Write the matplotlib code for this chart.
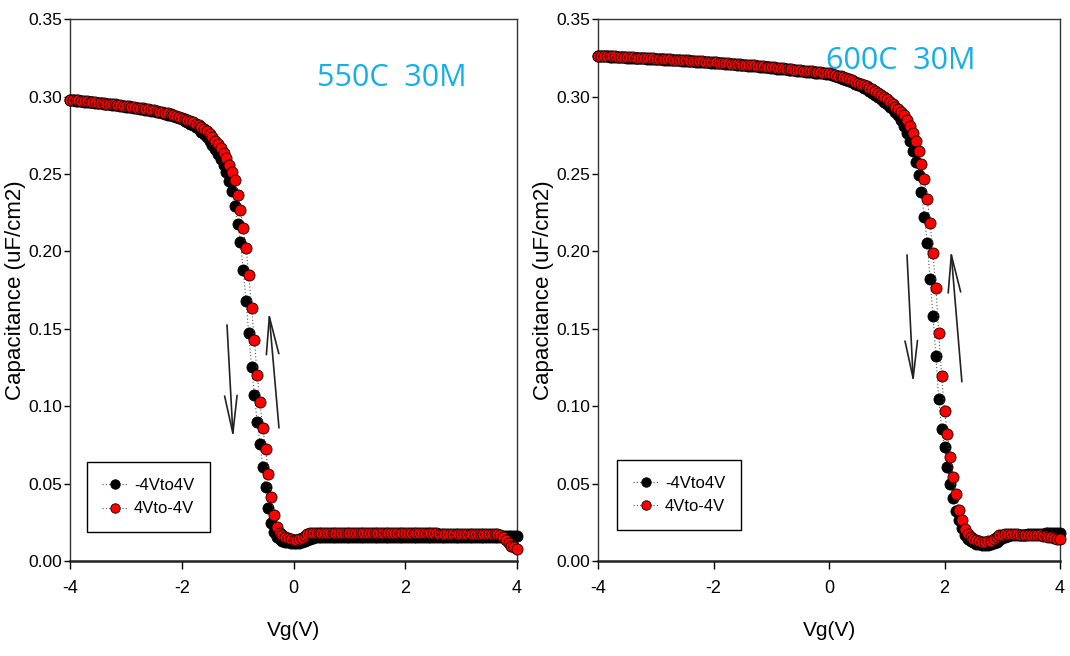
import numpy as np
import matplotlib
matplotlib.use("Agg")
import matplotlib.pyplot as plt

plt.rcParams["font.family"] = ["Liberation Sans", "DejaVu Sans"]
plt.rcParams["axes.unicode_minus"] = False

# gate voltage sweep, 0.05 V step
vg = np.linspace(-4, 4, 161)

# 550C 30M
fwd_550 = [
    0.2977, 0.2975, 0.2973, 0.2972, 0.2970, 0.2968, 0.2966, 0.2964, 0.2962, 0.2960,
    0.2958, 0.2956, 0.2954, 0.2952, 0.2950, 0.2948, 0.2946, 0.2944, 0.2942, 0.2939,
    0.2935, 0.2932, 0.2930, 0.2927, 0.2924, 0.2921, 0.2918, 0.2915, 0.2912, 0.2909,
    0.2905, 0.2902, 0.2898, 0.2893, 0.2889, 0.2884, 0.2879, 0.2873, 0.2867, 0.2860,
    0.2852, 0.2844, 0.2835, 0.2825, 0.2814, 0.2802, 0.2789, 0.2774, 0.2757, 0.2737,
    0.2715, 0.2690, 0.2663, 0.2632, 0.2597, 0.2557, 0.2513, 0.2455, 0.2390, 0.2295,
    0.2180, 0.2060, 0.1880, 0.1680, 0.1470, 0.1255, 0.1070, 0.0900, 0.0758, 0.0610,
    0.0475, 0.0345, 0.0245, 0.0185, 0.0155, 0.0140, 0.0130, 0.0124, 0.0120, 0.0118,
    0.0117, 0.0117, 0.0118, 0.0122, 0.0128, 0.0135, 0.0142, 0.0148, 0.0152, 0.0154,
    0.0155, 0.0155, 0.0155, 0.0155, 0.0155, 0.0155, 0.0155, 0.0155, 0.0155, 0.0155,
    0.0155, 0.0155, 0.0155, 0.0155, 0.0155, 0.0155, 0.0155, 0.0155, 0.0155, 0.0155,
    0.0155, 0.0155, 0.0155, 0.0155, 0.0155, 0.0155, 0.0155, 0.0155, 0.0155, 0.0155,
    0.0155, 0.0155, 0.0155, 0.0155, 0.0155, 0.0155, 0.0155, 0.0155, 0.0155, 0.0155,
    0.0154, 0.0154, 0.0154, 0.0154, 0.0154, 0.0154, 0.0154, 0.0154, 0.0154, 0.0154,
    0.0154, 0.0154, 0.0154, 0.0154, 0.0154, 0.0154, 0.0154, 0.0154, 0.0154, 0.0154,
    0.0154, 0.0154, 0.0154, 0.0154, 0.0158, 0.0159, 0.0160, 0.0162, 0.0163, 0.0163,
    0.0160,
]
rev_550 = [
    0.2980, 0.2978, 0.2976, 0.2975, 0.2973, 0.2971, 0.2969, 0.2967, 0.2965, 0.2963,
    0.2961, 0.2959, 0.2957, 0.2955, 0.2953, 0.2951, 0.2949, 0.2947, 0.2945, 0.2942,
    0.2940, 0.2937, 0.2935, 0.2932, 0.2929, 0.2926, 0.2923, 0.2920, 0.2917, 0.2914,
    0.2910, 0.2907, 0.2903, 0.2899, 0.2895, 0.2891, 0.2886, 0.2881, 0.2876, 0.2870,
    0.2864, 0.2857, 0.2850, 0.2842, 0.2834, 0.2825, 0.2815, 0.2803, 0.2790, 0.2775,
    0.2758, 0.2738, 0.2716, 0.2692, 0.2665, 0.2635, 0.2600, 0.2560, 0.2515, 0.2460,
    0.2367, 0.2270, 0.2150, 0.2025, 0.1845, 0.1635, 0.1430, 0.1200, 0.1025, 0.0860,
    0.0725, 0.0565, 0.0415, 0.0295, 0.0220, 0.0180, 0.0165, 0.0156, 0.0148, 0.0142,
    0.0138, 0.0137, 0.0140, 0.0148, 0.0160, 0.0172, 0.0180, 0.0183, 0.0184, 0.0184,
    0.0184, 0.0184, 0.0183, 0.0183, 0.0183, 0.0183, 0.0183, 0.0183, 0.0183, 0.0182,
    0.0182, 0.0182, 0.0182, 0.0182, 0.0182, 0.0181, 0.0181, 0.0181, 0.0181, 0.0181,
    0.0181, 0.0180, 0.0180, 0.0180, 0.0180, 0.0180, 0.0180, 0.0180, 0.0179, 0.0179,
    0.0179, 0.0179, 0.0179, 0.0179, 0.0179, 0.0178, 0.0178, 0.0178, 0.0178, 0.0178,
    0.0178, 0.0178, 0.0177, 0.0177, 0.0177, 0.0177, 0.0177, 0.0177, 0.0177, 0.0176,
    0.0176, 0.0176, 0.0176, 0.0176, 0.0176, 0.0176, 0.0176, 0.0175, 0.0175, 0.0175,
    0.0175, 0.0175, 0.0175, 0.0174, 0.0170, 0.0155, 0.0135, 0.0115, 0.0100, 0.0088,
    0.0078,
]

# 600C 30M
fwd_600 = [
    0.3262, 0.3261, 0.3260, 0.3259, 0.3258, 0.3257, 0.3256, 0.3255, 0.3254, 0.3253,
    0.3252, 0.3251, 0.3250, 0.3249, 0.3248, 0.3247, 0.3246, 0.3245, 0.3244, 0.3243,
    0.3242, 0.3241, 0.3240, 0.3239, 0.3238, 0.3237, 0.3235, 0.3234, 0.3233, 0.3232,
    0.3231, 0.3230, 0.3229, 0.3227, 0.3226, 0.3225, 0.3224, 0.3223, 0.3221, 0.3220,
    0.3218, 0.3217, 0.3215, 0.3214, 0.3212, 0.3211, 0.3209, 0.3208, 0.3206, 0.3205,
    0.3203, 0.3202, 0.3200, 0.3198, 0.3197, 0.3195, 0.3193, 0.3191, 0.3190, 0.3188,
    0.3185, 0.3183, 0.3181, 0.3179, 0.3177, 0.3175, 0.3173, 0.3171, 0.3169, 0.3167,
    0.3165, 0.3163, 0.3161, 0.3159, 0.3157, 0.3155, 0.3153, 0.3151, 0.3149, 0.3147,
    0.3145, 0.3140, 0.3135, 0.3129, 0.3123, 0.3116, 0.3108, 0.3100, 0.3092, 0.3084,
    0.3075, 0.3067, 0.3058, 0.3048, 0.3037, 0.3025, 0.3012, 0.2998, 0.2983, 0.2967,
    0.2950, 0.2935, 0.2920, 0.2902, 0.2880, 0.2850, 0.2810, 0.2765, 0.2715, 0.2650,
    0.2575, 0.2495, 0.2385, 0.2225, 0.2055, 0.1820, 0.1580, 0.1325, 0.1045, 0.0855,
    0.0735, 0.0610, 0.0495, 0.0405, 0.0320, 0.0265, 0.0210, 0.0170, 0.0145, 0.0130,
    0.0120, 0.0113, 0.0108, 0.0105, 0.0104, 0.0105, 0.0108, 0.0115, 0.0125, 0.0138,
    0.0150, 0.0158, 0.0162, 0.0165, 0.0167, 0.0168, 0.0169, 0.0170, 0.0171, 0.0172,
    0.0173, 0.0174, 0.0175, 0.0176, 0.0177, 0.0178, 0.0178, 0.0179, 0.0180, 0.0180,
    0.0180,
]
rev_600 = [
    0.3265, 0.3264, 0.3263, 0.3262, 0.3261, 0.3260, 0.3259, 0.3258, 0.3257, 0.3256,
    0.3255, 0.3254, 0.3253, 0.3252, 0.3251, 0.3250, 0.3249, 0.3248, 0.3247, 0.3246,
    0.3245, 0.3244, 0.3243, 0.3242, 0.3241, 0.3240, 0.3238, 0.3237, 0.3236, 0.3235,
    0.3234, 0.3233, 0.3232, 0.3230, 0.3229, 0.3228, 0.3227, 0.3226, 0.3224, 0.3223,
    0.3222, 0.3221, 0.3219, 0.3218, 0.3216, 0.3215, 0.3213, 0.3212, 0.3210, 0.3209,
    0.3207, 0.3206, 0.3204, 0.3202, 0.3201, 0.3199, 0.3197, 0.3195, 0.3194, 0.3192,
    0.3190, 0.3188, 0.3186, 0.3184, 0.3182, 0.3180, 0.3178, 0.3176, 0.3174, 0.3172,
    0.3170, 0.3168, 0.3166, 0.3164, 0.3162, 0.3160, 0.3158, 0.3156, 0.3154, 0.3152,
    0.3150, 0.3146, 0.3141, 0.3136, 0.3131, 0.3125, 0.3118, 0.3111, 0.3104, 0.3096,
    0.3088, 0.3082, 0.3075, 0.3067, 0.3058, 0.3048, 0.3037, 0.3025, 0.3012, 0.2998,
    0.2983, 0.2967, 0.2950, 0.2935, 0.2920, 0.2902, 0.2880, 0.2850, 0.2810, 0.2765,
    0.2715, 0.2650, 0.2565, 0.2470, 0.2340, 0.2185, 0.1990, 0.1765, 0.1470, 0.1195,
    0.0970, 0.0820, 0.0670, 0.0545, 0.0430, 0.0330, 0.0262, 0.0208, 0.0175, 0.0155,
    0.0140, 0.0133, 0.0128, 0.0125, 0.0125, 0.0127, 0.0132, 0.0145, 0.0158, 0.0166,
    0.0170, 0.0172, 0.0172, 0.0172, 0.0172, 0.0172, 0.0171, 0.0171, 0.0170, 0.0170,
    0.0169, 0.0168, 0.0167, 0.0165, 0.0162, 0.0159, 0.0156, 0.0152, 0.0148, 0.0144,
    0.0140,
]

series_labels = ["-4Vto4V", "4Vto-4V"]
panel_titles = ["550C  30M", "600C  30M"]
x_ticks = [-4, -2, 0, 2, 4]
y_ticks = [0.0, 0.05, 0.10, 0.15, 0.20, 0.25, 0.30, 0.35]


def draw_panel(ax, fwd, rev, title, title_xy, arrows, leg_anchor):
    common = dict(linestyle=(0, (1, 2)), color="#555555", lw=0.8, marker="o",
                  ms=8, mec="black", mew=0.6, clip_on=False)
    ax.plot(vg, fwd, mfc="black", label=series_labels[0], zorder=3, **common)
    ax.plot(vg, rev, mfc="#ff0000", label=series_labels[1], zorder=4, **common)

    ax.set_xlim(-4, 4)
    ax.set_ylim(0, 0.35)
    ax.set_xticks(x_ticks)
    ax.set_yticks(y_ticks)
    ax.set_yticklabels([f"{v:.2f}" for v in y_ticks])
    ax.tick_params(axis="x", direction="out", length=6, width=1, labelsize=13, pad=8)
    ax.tick_params(axis="y", direction="out", length=4, width=1, labelsize=12.5, pad=1.5)

    for side in ["top", "right", "left"]:
        ax.spines[side].set_linewidth(1.0)
        ax.spines[side].set_color("#333333")
    ax.spines["bottom"].set_linewidth(1.8)
    ax.spines["bottom"].set_color("#222222")

    ax.set_xlabel("Vg(V)", fontsize=15, labelpad=17)
    ax.set_ylabel("Capacitance (uF/cm2)", fontsize=16, labelpad=2)

    ax.text(title_xy[0], title_xy[1], title, fontsize=22, color="#14AFEA",
            family=["Open Sans", "DejaVu Sans"], va="baseline", ha="left")

    for base, tip in arrows:
        ax.annotate("", xy=tip, xytext=base,
                    arrowprops=dict(arrowstyle="->,head_length=2.7,head_width=0.45",
                                    lw=1.2, color="#222222", shrinkA=0, shrinkB=0))

    leg = ax.legend(loc="lower left", bbox_to_anchor=leg_anchor, borderaxespad=0,
                    fontsize=12, frameon=True, fancybox=False, framealpha=1,
                    edgecolor="black", borderpad=0.95, labelspacing=0.5,
                    handlelength=1.5, handletextpad=0.4, markerscale=0.85)
    leg.get_frame().set_linewidth(1.0)


fig = plt.figure(figsize=(10.7, 6.56), dpi=100)
ax1 = fig.add_axes([0.0654, 0.1448, 0.4178, 0.826])
ax2 = fig.add_axes([0.5589, 0.1448, 0.4318, 0.826])

draw_panel(ax1, fwd_550, rev_550, panel_titles[0], (0.42, 0.307),
           [((-1.19, 0.1525), (-1.08, 0.0793)), ((-0.26, 0.086), (-0.44, 0.161))],
           (0.037, 0.053))
draw_panel(ax2, fwd_600, rev_600, panel_titles[1], (-0.05, 0.318),
           [((1.35, 0.1977), (1.46, 0.1148)), ((2.30, 0.1158), (2.11, 0.2009))],
           (0.042, 0.057))

fig.savefig("out.png", dpi=100)
